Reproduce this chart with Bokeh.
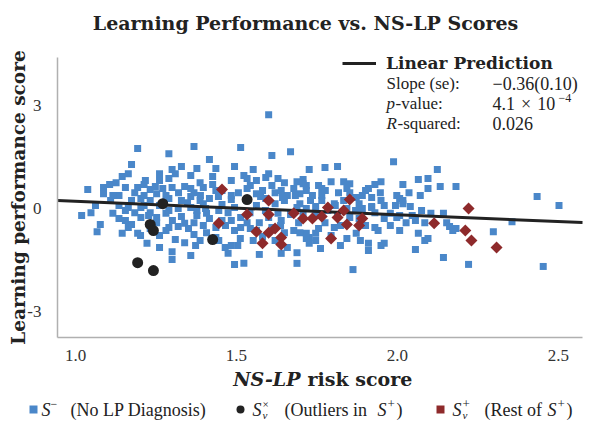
import numpy as np
from bokeh.plotting import figure
from bokeh.models import Range1d, FixedTicker, Label, Legend, LegendItem, NumeralTickFormatter
from bokeh.core.properties import value
from bokeh.embed import file_html
from bokeh.resources import INLINE

# ---------------- data ----------------
blue_x = [
    1.193, 1.368, 1.290, 1.416, 1.174, 1.494, 1.329, 1.300, 1.261, 1.358, 1.377, 1.436, 1.426, 1.145, 1.164, 1.310, 1.290, 1.261,
    1.038, 1.087, 1.106, 1.126, 1.087, 1.135, 1.116, 1.155, 1.184, 1.193, 1.213, 1.232, 1.213, 1.252, 1.271, 1.300, 1.339, 1.368,
    1.397, 1.436, 1.484, 1.484, 1.513, 1.600, 1.668, 1.610, 1.552, 1.726, 1.775, 1.814, 1.523, 1.533, 1.562, 1.591, 1.600, 1.629,
    1.649, 1.688, 1.707, 1.717, 1.755, 1.765, 1.794, 1.833, 1.852, 1.910, 1.930, 1.949, 1.988, 2.017, 2.036, 2.007, 1.852, 1.891,
    1.920, 1.620, 1.658, 1.697, 1.736, 1.765, 1.562, 1.533, 1.610, 2.124, 2.065, 2.095, 2.095, 2.133, 2.182, 2.434, 2.502, 1.717,
    1.707, 1.843, 1.852,
    2.356, 2.298, 2.221, 2.453, 2.143, 2.056, 2.085, 2.095, 2.065, 2.153, 2.162, 2.172, 2.182, 2.143, 2.104, 2.075, 2.046, 2.056,
    2.085, 2.017, 1.978, 1.998, 1.930, 1.920, 1.930, 1.940, 1.910, 1.910, 1.949, 1.959, 1.872, 1.862, 1.755, 1.726, 1.717, 1.726,
    1.746, 1.804, 1.881, 1.717, 1.697, 1.707, 1.746, 1.804, 1.833, 1.019, 1.048, 1.067, 1.077, 1.116, 1.135, 1.145, 1.164, 1.174,
    1.193, 1.203, 1.222, 1.261, 1.300, 1.300, 1.358, 1.339, 1.368, 1.387, 1.310, 1.290, 1.319, 1.339, 1.368, 1.397, 1.436, 1.445,
    1.465, 1.484, 1.494, 1.474, 1.135, 1.164, 1.203, 1.232, 1.252, 1.281, 1.290, 1.319, 1.358, 1.377, 1.407, 1.445, 1.474, 1.494,
    1.397, 1.348, 1.513, 1.494, 1.504, 1.523, 1.552, 1.571, 1.600, 1.629, 1.639, 1.649, 1.658, 1.688, 1.688, 1.678, 1.697, 1.717,
    1.746, 1.920, 1.891, 2.007, 2.017, 1.639, 1.513,
    1.232, 1.261, 1.290, 1.329, 1.358, 1.387, 1.416, 1.455, 1.484, 1.533, 1.562, 1.591, 1.620, 1.649, 1.688, 1.252, 1.281, 1.329,
    1.377, 1.416, 1.455, 1.542, 1.571, 1.610, 1.668, 1.213, 1.184, 1.155, 1.407, 1.436, 1.261, 1.232, 1.581, 1.639, 1.678, 1.426,
    1.455, 1.387, 1.358, 1.281, 1.203, 1.174, 1.562, 1.581, 1.620, 1.533, 1.484, 1.765, 1.784, 1.814, 1.843, 1.775, 1.823, 1.872,
    1.901, 1.949, 1.959, 1.998, 1.843, 1.794, 1.881, 1.901, 1.978, 2.007, 2.027, 1.959,
    1.217, 1.248, 1.320, 1.388, 1.444, 1.506, 1.543, 1.575, 1.643, 1.683, 1.730, 1.776, 1.817, 1.227, 1.301, 1.351, 1.404, 1.466,
    1.543, 1.590, 1.637, 1.693, 1.745, 1.807, 1.870, 1.947, 1.994, 2.040, 1.155, 1.109, 1.062, 1.202, 1.373, 1.512, 1.761, 1.823,
    1.885, 2.071,
]
blue_y = [
    1.74, 1.80, 1.59, 1.42, 1.28, 1.22, 1.22, 1.13, 1.01, 0.96, 1.16, 1.16, 0.93, 0.93, 1.01, 1.01, 0.87, 0.81,
    0.55, 0.61, 0.70, 0.75, 0.43, 0.38, 0.38, 0.61, 0.46, 0.61, 0.70, 0.55, 0.38, 0.43, 0.58, 0.61, 0.64, 0.46,
    0.61, 0.52, 0.81, 0.38, 1.77, 2.72, 1.65, 1.54, 1.13, 1.13, 1.19, 1.22, 0.96, 0.87, 0.81, 0.90, 1.01, 0.87,
    0.75, 0.78, 0.84, 0.67, 0.67, 0.58, 0.78, 0.78, 0.72, 0.58, 0.70, 0.78, 1.36, 0.70, 0.46, 0.29, 0.46, 0.38,
    0.32, 0.46, 0.38, 0.43, 0.38, 0.38, 0.43, 0.58, 0.67, 1.13, 0.84, 0.87, 0.58, 0.64, 0.64, 0.35, 0.09, 0.52,
    0.72, 0.58, -0.26,
    -0.38, -0.67, -1.62, -1.68, -1.42, -1.19, -0.93, -0.87, -0.72, -0.41, -0.52, -0.64, -0.58, -0.14, -0.14, -0.06, -0.20, -0.35,
    -0.41, 0.14, -0.14, -0.26, -0.12, 0.06, -0.55, -0.64, -1.01, -1.22, -1.07, -1.01, -0.72, -1.77, -0.58, -0.84, -0.72, -1.01,
    -0.93, -0.55, 0.14, 0.00, 0.14, -0.12, 0.06, 0.14, 0.23, -0.20, -0.12, -0.67, -0.46, -0.14, -0.29, -0.72, -0.55, -0.46,
    -0.72, -0.26, -1.01, -1.13, -1.25, -1.48, -1.36, -0.99, -0.75, -0.93, -0.90, -0.55, -0.52, -0.43, -0.41, -0.49, -0.55, -0.93,
    -1.13, -1.07, -1.62, -1.30, 0.09, 0.03, 0.03, -0.12, -0.26, -0.14, -0.06, 0.00, 0.03, -0.06, -0.14, -0.06, -0.12, 0.03,
    0.14, 0.17, -0.26, -0.64, -1.07, -1.59, -0.93, -1.33, -0.26, -0.14, -0.35, -0.70, -1.13, -1.28, -1.59, -0.64, -0.70, -0.87,
    -0.72, 0.03, 0.00, -0.20, 0.23, -1.30, -0.55,
    0.23, 0.09, 0.29, 0.23, 0.35, 0.23, 0.29, 0.12, 0.26, 0.23, 0.09, 0.29, 0.14, 0.23, 0.03, -0.41, -0.64, -0.23,
    -0.20, -0.29, -0.35, -0.12, -0.41, -0.55, -0.17, 0.09, -0.12, -0.35, -0.70, -0.84, -0.78, -0.58, 0.52, 0.52, 0.58, 0.70,
    0.52, 0.75, 0.58, 0.38, 0.29, 0.23, -0.64, -0.81, -0.93, -0.41, -0.35, 0.23, -0.06, -0.20, 0.00, -0.41, -0.49, 0.32,
    0.52, 0.23, 0.09, 0.38, -0.87, -0.78, -0.29, -0.49, -0.49, -0.64, -0.41, -0.29,
    0.81, 0.64, 0.46, 0.38, 0.35, 0.46, 0.67, 0.35, 0.32, 0.38, 0.23, 0.52, 0.46, -0.20, -0.35, -0.58, 0.00, -0.49,
    -0.58, -0.06, -0.49, -0.41, -0.20, 0.09, -0.06, 0.46, 0.09, 0.06, -0.06, 0.23, 0.09, -0.78, -1.07, -0.87, -1.16, -1.07,
    -0.93, 0.38,
]

red_x = [1.455, 1.600, 1.533, 1.600, 1.445, 1.562, 1.600, 1.620, 1.639, 1.581, 1.639, 1.678, 1.707, 1.736,
         1.765, 1.784, 1.814, 1.833, 1.843, 1.852, 1.881, 1.891, 1.794, 2.114, 2.221, 2.211, 2.230, 2.308]
red_y = [0.55, 0.23, -0.17, -0.17, -0.43, -0.67, -0.70, -0.58, -0.84, -1.01, -1.04, -0.14, -0.29, -0.29,
         -0.23, 0.03, -0.26, -0.06, -0.46, 0.26, -0.49, -0.29, -0.87, -0.43, 0.00, -0.64, -0.93, -1.13]

black_x = [1.271, 1.232, 1.242, 1.426, 1.193, 1.242, 1.533]
black_y = [0.14, -0.46, -0.64, -0.90, -1.57, -1.80, 0.26]

line_intercept = 0.598
line_slope = -0.39

x_ticks = [1.0, 1.5, 2.0, 2.5]
y_ticks = [-3, 0, 3]
x_lim = (0.944, 2.575)
y_lim = (-3.74, 4.38)

BLUE = "#4a87c9"
RED = "#8e2a2b"
BLACK = "#222222"
SERIF = "Liberation Serif"
BSERIF = "DejaVu Serif"

# ---------------- layout (pixels) ----------------
W, H = 600, 427
FL, FR, FT, FB = 57, 582, 57, 337   # plot-area box in canvas pixels
kx = (x_lim[1] - x_lim[0]) / (FR - FL)
ky = (y_lim[1] - y_lim[0]) / (FB - FT)
xr = Range1d(x_lim[0] - FL * kx, x_lim[1] + (W - FR) * kx)
yr = Range1d(y_lim[0] - (H - FB) * ky, y_lim[1] + FT * ky)

p = figure(width=W, height=H, output_backend="svg", toolbar_location=None,
           x_range=xr, y_range=yr, min_border=0)
p.outline_line_color = None
p.grid.visible = False
p.background_fill_color = "white"
p.border_fill_color = "white"

p.xaxis.ticker = FixedTicker(ticks=x_ticks)
p.yaxis.ticker = FixedTicker(ticks=y_ticks)
p.xaxis.formatter = NumeralTickFormatter(format="0.0")
p.yaxis.major_label_overrides = {-3: "-3", 0: "0", 3: "3"}
p.xaxis.fixed_location = y_lim[0]
p.xaxis.bounds = x_lim
p.yaxis.fixed_location = x_lim[0]
p.yaxis.bounds = y_lim
for ax in (p.xaxis, p.yaxis):
    ax.axis_line_color = "#b0b0b0"
    ax.axis_line_width = 1.5
    ax.major_tick_line_color = None
    ax.minor_tick_line_color = None
    ax.major_label_text_font = SERIF
    ax.major_label_text_font_size = "17px"
    ax.major_label_text_color = "#333333"
p.xaxis.major_label_standoff = 6
p.yaxis.major_label_standoff = 10

r_blue = p.scatter(blue_x, blue_y, marker="square", size=7, fill_color=BLUE, line_color=None)
r_line = p.line([x_lim[0], x_lim[1]],
                [line_intercept + line_slope * x_lim[0], line_intercept + line_slope * x_lim[1]],
                line_color=BLACK, line_width=3)
r_black = p.scatter(black_x, black_y, marker="circle", size=11, fill_color=BLACK, line_color=None)
r_red = p.scatter(red_x, red_y, marker="square", angle=np.pi / 4, size=8.5, fill_color=RED, line_color=None)

def pos(X, Y):
    return X, H - Y

def lab(text, X, Y, size, font=SERIF, style="normal", align="left", angle=0.0, color="#222222"):
    lx, ly = pos(X, Y)
    p.add_layout(Label(x=lx, y=ly, x_units="screen", y_units="screen", text=text,
                       text_font=font, text_font_size=f"{size}px", text_font_style=style,
                       text_align=align, text_baseline="middle", angle=angle, text_color=color))

def legend_box(renderer, label, X, Y, gw, gh, font=SERIF, size=16, style="normal", standoff=9):
    lx, ly = pos(X, Y)
    leg = Legend(items=[LegendItem(label=value(label), renderers=[renderer])],
                 location=(lx, ly), orientation="horizontal", glyph_width=gw, glyph_height=gh,
                 padding=0, margin=0, spacing=0, label_standoff=standoff,
                 border_line_alpha=0, background_fill_alpha=0,
                 label_text_font=font, label_text_font_size=f"{size}px", label_text_font_style=style,
                 label_text_color="#222222", label_height=gh)
    p.add_layout(leg)

# title and axis labels
lab("Learning Performance vs. NS-LP Scores", 305, 22, 19, font=BSERIF, style="bold", align="center")
lab("Learning performance score", 18, 197, 18.5, font=BSERIF, style="bold", align="center", angle=np.pi / 2)
lab("NS-LP", 300, 378, 19, font=BSERIF, style="bold italic", align="right")
lab("risk score", 307, 378, 19, font=BSERIF, style="bold", align="left")

# regression legend + statistics
legend_box(r_line, "Linear Prediction", 342, 73, 34, 20, font=BSERIF, size=17, style="bold", standoff=10)
lab("Slope (se):", 386, 83, 17)
lab("\u22120.36(0.10)", 492, 83, 18)
lab("p", 386, 103, 17, style="italic")
lab("-value:", 395, 103, 17)
lab("4.1\u2004\u00d7\u200410", 492, 103, 18)
lab("\u22124", 558, 97, 12)
lab("R", 386, 123, 17, style="italic")
lab("-squared:", 397, 123, 17)
lab("0.026", 492, 123, 18)

# bottom legend
legend_box(r_blue, " ", 23, 419, 20, 20)
legend_box(r_black, " ", 230, 419, 20, 20)
legend_box(r_red, " ", 430, 419, 20, 20)

lab("S", 41, 409, 18, style="italic")
lab("\u2212", 50, 403, 12)
lab("(No LP Diagnosis)", 70, 409, 18)

lab("S", 252, 409, 18, style="italic")
lab("\u00d7", 262, 403, 11)
lab("\u03bd", 262, 414, 11, style="italic")
lab("(Outliers in", 284, 409, 18)
lab("S", 377, 409, 18, style="italic")
lab("+", 387, 403, 13)
lab(")", 396, 409, 18)

lab("S", 452, 409, 18, style="italic")
lab("+", 462, 403, 13)
lab("\u03bd", 462, 414, 11, style="italic")
lab("(Rest of", 484, 409, 18)
lab("S", 547, 409, 18, style="italic")
lab("+", 557, 403, 13)
lab(")", 566, 409, 18)

open("out.html", "w").write(file_html(p, INLINE))
